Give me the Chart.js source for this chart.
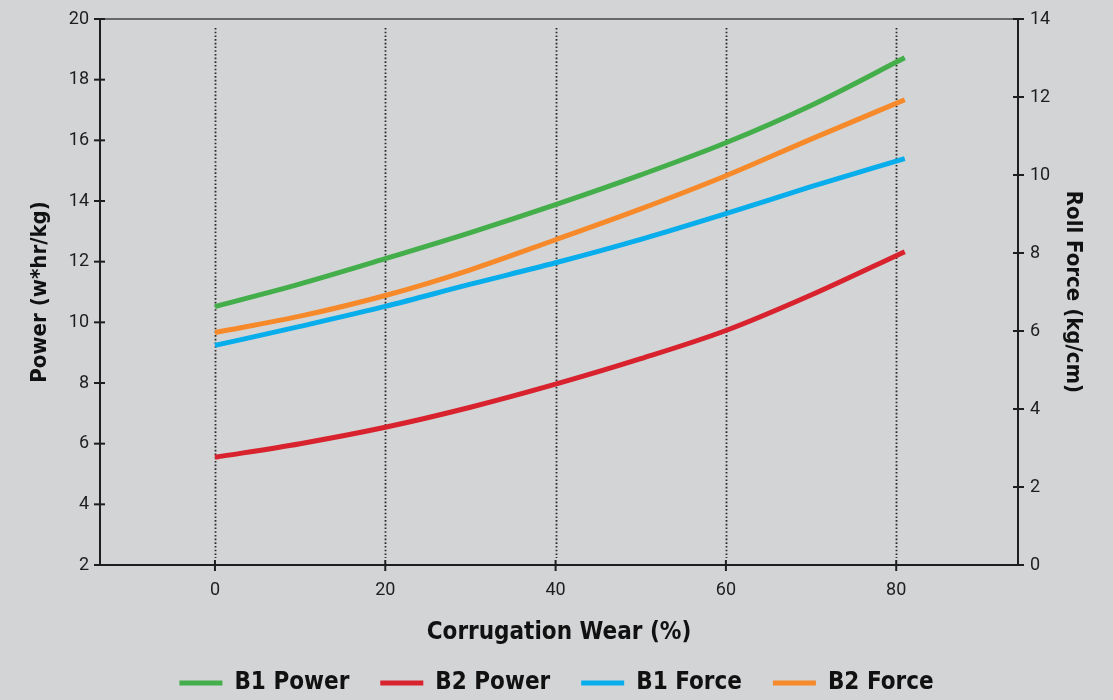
<!DOCTYPE html>
<html lang="en">
<head>
    <meta charset="UTF-8">
    <title>Power and Roll Force vs Corrugation Wear</title>
    <style>
        html, body {
            margin: 0;
            padding: 0;
            background: #d3d4d6;
        }
        .chart-box {
            width: 1113px;
            height: 700px;
        }
    </style>
</head>
<body>
    <div class="chart-box">
        <canvas id="wearChart"></canvas>
    </div>

    <script src="https://cdn.jsdelivr.net/npm/chart.js"></script>
    <script>
// Данные
const wear = [0, 10, 20, 30, 40, 50, 60, 70, 81];
const b1Power = [10.52, 11.27, 12.1, 12.96, 13.88, 14.86, 15.92, 17.15, 18.72];
const b2Power = [5.55, 6.0, 6.54, 7.2, 7.96, 8.8, 9.73, 10.9, 12.33];
const b1Force = [5.63, 6.12, 6.63, 7.2, 7.75, 8.35, 9.01, 9.7, 10.42];
const b2Force = [5.96, 6.38, 6.91, 7.57, 8.34, 9.13, 9.98, 10.92, 11.93];
const xTicks = [0, 20, 40, 60, 80];
const powerTicks = [2, 4, 6, 8, 10, 12, 14, 16, 18, 20];
const forceTicks = [0, 2, 4, 6, 8, 10, 12, 14];

const ink = '#1e1e1e';
const condensed = "'DejaVu Sans Condensed', 'DejaVu Sans'";
const tickFont = { family: 'Roboto', size: 18 };
const titleFont = { family: condensed, size: 24, weight: 'bold' };
const sideTitleFont = { family: condensed, size: 22, weight: 'bold' };

function points(values) {
    return wear.map((x, i) => ({ x: x, y: values[i] }));
}

function series(label, values, color, axis) {
    return {
        label: label,
        data: points(values),
        yAxisID: axis,
        borderColor: color,
        backgroundColor: color,
        borderWidth: 5,
        pointRadius: 0,
        tension: 0.4,
        cubicInterpolationMode: 'monotone',
        fill: false
    };
}

// Рамка, пунктирные вертикали и засечки, пересекающие оси
const framePlugin = {
    id: 'frame',
    beforeDatasetsDraw(chart) {
        const { ctx, chartArea: a, scales } = chart;
        ctx.save();
        ctx.strokeStyle = '#2a2a2a';
        ctx.lineWidth = 1.8;
        ctx.setLineDash([1.6, 2.1]);
        scales.x.ticks.forEach(t => {
            const px = Math.round(scales.x.getPixelForValue(t.value)) + 0.5;
            ctx.beginPath();
            ctx.moveTo(px, a.top + 9);
            ctx.lineTo(px, a.bottom - 7);
            ctx.stroke();
        });
        ctx.setLineDash([]);
        ctx.strokeStyle = '#444';
        ctx.lineWidth = 1.5;
        ctx.beginPath();
        ctx.moveTo(a.left, a.top);
        ctx.lineTo(a.right, a.top);
        ctx.stroke();

        ctx.strokeStyle = ink;
        ctx.lineWidth = 2;
        scales.x.ticks.forEach(t => {
            const px = scales.x.getPixelForValue(t.value);
            ctx.beginPath();
            ctx.moveTo(px, a.bottom - 5);
            ctx.lineTo(px, a.bottom + 6);
            ctx.stroke();
        });
        scales.y.ticks.forEach(t => {
            const py = scales.y.getPixelForValue(t.value);
            ctx.beginPath();
            ctx.moveTo(a.left - 6, py);
            ctx.lineTo(a.left + 5, py);
            ctx.stroke();
        });
        scales.y2.ticks.forEach(t => {
            const py = scales.y2.getPixelForValue(t.value);
            ctx.beginPath();
            ctx.moveTo(a.right - 5, py);
            ctx.lineTo(a.right + 6, py);
            ctx.stroke();
        });
        ctx.restore();
    }
};

new Chart(document.getElementById('wearChart'), {
    type: 'line',
    data: {
        datasets: [
            series('B1 Power', b1Power, '#43ae4a', 'y'),
            series('B2 Power', b2Power, '#d8222e', 'y'),
            series('B1 Force', b1Force, '#08aeec', 'y2'),
            series('B2 Force', b2Force, '#f68a2a', 'y2')
        ]
    },
    options: {
        responsive: true,
        maintainAspectRatio: false,
        animation: false,
        layout: {
            padding: { top: 19, left: 0, right: 0, bottom: -5 }
        },
        scales: {
            x: {
                type: 'linear',
                min: -13.5,
                max: 94.3,
                afterBuildTicks(scale) {
                    scale.ticks = xTicks.map(v => ({ value: v }));
                },
                afterFit(scale) { scale.height = 75; },
                grid: { display: false },
                border: { display: true, color: ink, width: 2 },
                ticks: { color: ink, font: tickFont, padding: 7 },
                title: {
                    display: true,
                    text: 'Corrugation Wear (%)',
                    color: '#111',
                    font: titleFont,
                    padding: { top: 0, bottom: -7 }
                }
            },
            y: {
                position: 'left',
                min: 2,
                max: 20,
                afterBuildTicks(scale) {
                    scale.ticks = powerTicks.map(v => ({ value: v }));
                },
                afterFit(scale) { scale.width = 100; },
                grid: { display: false },
                border: { display: true, color: ink, width: 2 },
                ticks: { color: ink, font: tickFont, padding: 3 },
                title: {
                    display: true,
                    text: 'Power (w*hr/kg)',
                    color: '#111',
                    font: sideTitleFont,
                    padding: { top: 27 }
                }
            },
            y2: {
                position: 'right',
                min: 0,
                max: 14,
                afterBuildTicks(scale) {
                    scale.ticks = forceTicks.map(v => ({ value: v }));
                },
                afterFit(scale) { scale.width = 95; },
                grid: { display: false },
                border: { display: true, color: ink, width: 2 },
                ticks: { color: ink, font: tickFont, padding: 4 },
                title: {
                    display: true,
                    text: 'Roll Force (kg/cm)',
                    color: '#111',
                    font: sideTitleFont,
                    padding: { top: 27 }
                }
            }
        },
        plugins: {
            legend: {
                position: 'bottom',
                labels: {
                    color: '#111',
                    font: { family: condensed, size: 24, weight: 'bold' },
                    boxWidth: 43,
                    boxHeight: 5,
                    padding: 31,
                    generateLabels(chart) {
                        return Chart.defaults.plugins.legend.labels.generateLabels(chart)
                            .map(item => Object.assign(item, { lineWidth: 0 }));
                    }
                }
            },
            tooltip: { enabled: false }
        }
    },
    plugins: [framePlugin]
});
    </script>
</body>
</html>
